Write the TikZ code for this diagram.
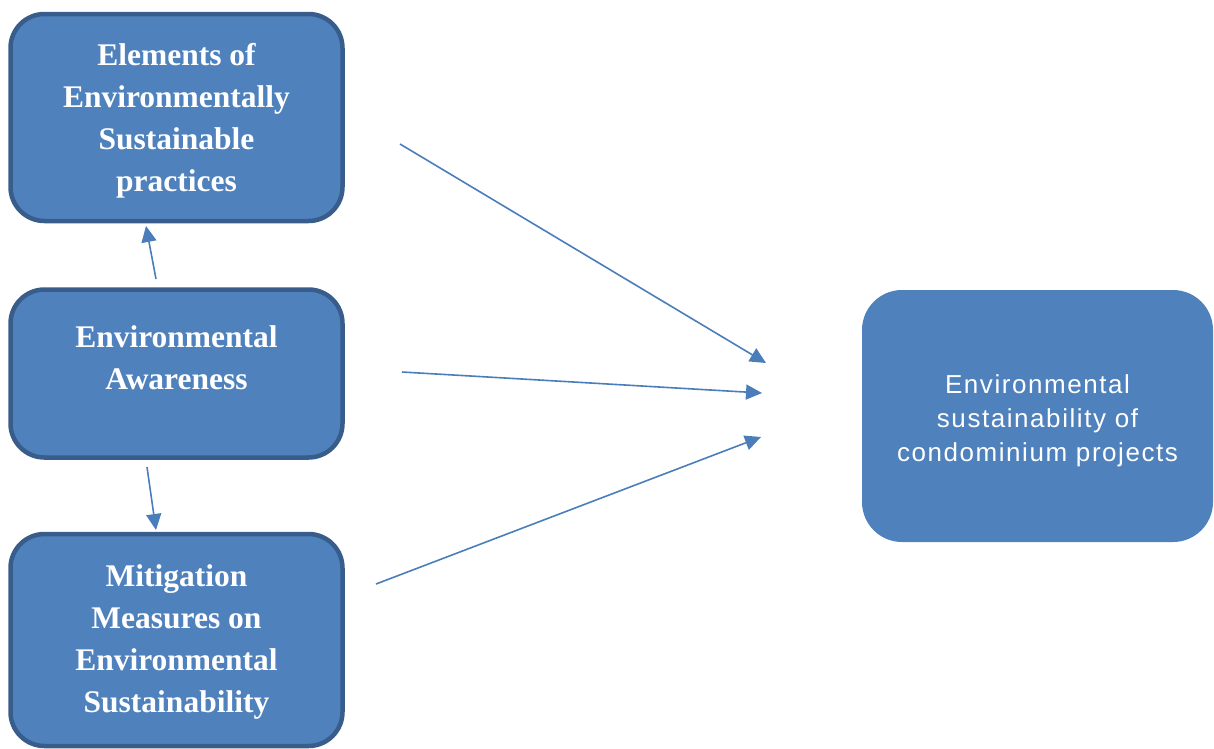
\documentclass[tikz,border=0pt]{standalone}
\usepackage{fontspec}
\setmainfont{Liberation Serif}
\newfontfamily\arialls[LetterSpace=6]{Liberation Sans}
\usetikzlibrary{arrows.meta}
\definecolor{boxfill}{HTML}{4F81BD}
\definecolor{boxline}{HTML}{385D8A}
\definecolor{arrowcol}{HTML}{4A7EBB}
\tikzset{
  leftbox/.style={draw=boxline, line width=4.5pt, fill=boxfill, rounded corners=34pt,
    text=white, align=center, font=\bfseries\fontsize{31.5}{42}\selectfont,
    minimum width=332pt, inner sep=0pt},
  rightbox/.style={fill=boxfill, rounded corners=40pt, text=white, align=center,
    font=\arialls\fontsize{26}{34}\selectfont, minimum width=351pt, minimum height=252pt, inner sep=0pt},
  conn/.style={draw=arrowcol, line width=1.6pt, -{Triangle[length=16pt,width=15pt]}}
}
\begin{document}
\begin{tikzpicture}[x=1pt,y=-1pt]
\useasboundingbox (0,0) rectangle (1214,748);
\node[leftbox, minimum height=207pt] (b1) at (176.5,117.5)
  {\rule{0pt}{29.5pt}Elements of\\Environmentally\\Sustainable\\practices};
\node[leftbox, minimum height=168pt] (b2) at (176.5,373.5)
  {Environmental\\Awareness\rule[-32pt]{0pt}{32pt}};
\node[leftbox, minimum height=212pt] (b3) at (176.5,640)
  {\rule{0pt}{25.5pt}Mitigation\\Measures on\\Environmental\\Sustainability};
\node[rightbox] (r) at (1037.5,416)
  {\rule{0pt}{27.6pt}Environmental\\sustainability of\\condominium projects};
\coordinate (s1) at (400,144);
\coordinate (e1) at (766,363);
\coordinate (s2) at (402,372);
\coordinate (e2) at (762,393);
\coordinate (s3) at (376,584);
\coordinate (e3) at (761,437);
\coordinate (u1) at (156,279);
\coordinate (u2) at (146,226);
\coordinate (d1) at (147,467);
\coordinate (d2) at (156,530);
\draw[conn] (u1) -- (u2);
\draw[conn] (d1) -- (d2);
\draw[conn] (s1) -- (e1);
\draw[conn] (s2) -- (e2);
\draw[conn] (s3) -- (e3);
\end{tikzpicture}
\end{document}
